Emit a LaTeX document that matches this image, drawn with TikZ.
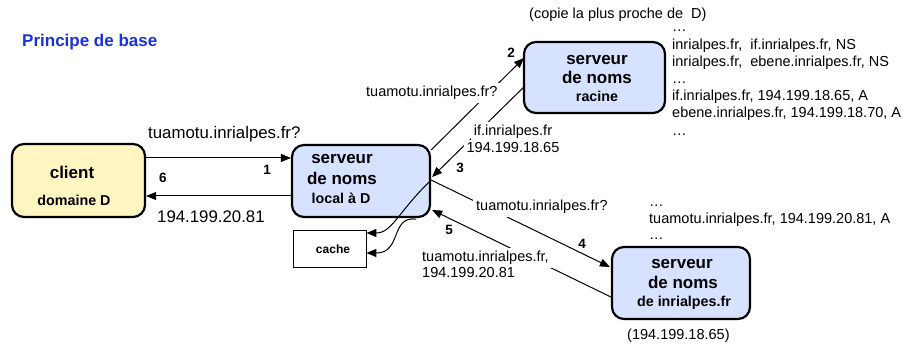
\documentclass[tikz,border=0pt]{standalone}
\usepackage{fontspec}
\setmainfont{Liberation Sans}
\usetikzlibrary{arrows.meta,calc}
\definecolor{boxblue}{RGB}{214,226,255}
\definecolor{boxyellow}{RGB}{255,245,192}
\definecolor{titleblue}{RGB}{26,51,217}
\begin{document}
\begin{tikzpicture}[x=1pt,y=-1pt,
  srv/.style={draw=black,line width=2.2pt,rounded corners=12pt,fill=boxblue,inner sep=0pt,minimum width=138pt,minimum height=72pt},
  arr/.style={line width=1pt,-{Triangle[length=10pt,width=8pt]}},
  lbl/.style={fill=white,inner sep=3pt,font=\fontsize{14.5}{17}\selectfont},
  txt/.style={inner sep=0pt,font=\fontsize{14.5}{17}\selectfont},
  num/.style={inner sep=0pt,font=\fontsize{13.5}{16}\selectfont\bfseries},
  bigt/.style={inner sep=0pt,font=\fontsize{17}{20}\selectfont\bfseries},
  smallt/.style={inner sep=0pt,font=\fontsize{14.3}{17}\selectfont\bfseries},
]
\path[use as bounding box,fill=white] (0,0) rectangle (904,344);

% boxes
\node[srv,fill=boxyellow,minimum width=133pt,minimum height=73pt] (client) at (78.5,180.5) {};
\node[srv] (local) at (361,181) {};
\node[srv,minimum width=141pt,minimum height=71pt] (root) at (594.5,77.5) {};
\node[srv] (inria) at (681,283) {};
\node[draw,line width=0.8pt,minimum width=73pt,minimum height=37pt,inner sep=0pt] (cache) at (329.5,248.5) {};

% box texts
\node[bigt,anchor=base] (ct1) at (72,179) {client};
\node[smallt,anchor=base] (ct2) at (74,206) {domaine D};
\node[bigt,anchor=base] (lt1) at (342,164) {serveur};
\node[bigt,anchor=base] (lt2) at (342,185) {de noms};
\node[smallt,anchor=base] (lt3) at (341,204) {local à D};
\node[bigt,anchor=base] (rt1) at (597,65) {serveur};
\node[bigt,anchor=base] (rt2) at (597,84) {de noms};
\node[smallt,anchor=base] (rt3) at (597,101.5) {racine};
\node[bigt,anchor=base] (it1) at (682,269) {serveur};
\node[bigt,anchor=base] (it2) at (683,289) {de noms};
\node[smallt,anchor=base] (it3) at (684,306) {de inrialpes.fr};
\node[inner sep=0pt,font=\fontsize{12}{14}\selectfont\bfseries,anchor=base] (cachet) at (333,254) {cache};

% connectors
\draw[arr] ($(client.east)+(0,-22.5)$) -- ($(local.west)+(0,-23)$);
\draw[arr] ($(local.west)+(0,15)$) -- ($(client.east)+(0,15.5)$);
\draw[arr] ($(local.east)+(0,-31)$) -- ($(root.west)+(1,-19.5)$);
\draw[arr] ($(root.west)+(1,9.5)$) -- ($(local.east)+(1,-4)$);
\draw[arr] ($(local.east)+(0,-1)$) -- ($(inria.west)+(-1,-16)$);
\draw[arr] ($(inria.west)+(0,14)$) -- ($(local.east)+(1,29)$);
\draw[arr] ($(local.east)+(0,-1)$) .. controls (398,212) and (392,233) .. ($(cache.east)+(0,-15.5)$);
\draw[arr] ($(local.south east)+(-15,1)$) .. controls (390,216) and (402,253) .. ($(cache.east)+(0,4.5)$);

% labels
\node[txt,anchor=base west,font=\fontsize{16.8}{20}\selectfont] (q1) at (148,138.5) {tuamotu.inrialpes.fr?};
\node[txt,anchor=base west,font=\fontsize{16.8}{20}\selectfont] (r6) at (157,223) {194.199.20.81};
\node[num,anchor=base] (n1) at (267,175) {1};
\node[num,anchor=base] (n6) at (163,183) {6};
\node[lbl,anchor=base west] (q2) at (363,97) {tuamotu.inrialpes.fr?};
\node[num,anchor=base] (n2) at (511,58) {2};
\node[lbl,anchor=base] (r3a) at (513,136) {if.inrialpes.fr};
\node[lbl,anchor=base] (r3b) at (513,153) {194.199.18.65};
\node[num,anchor=base] (n3) at (460,173) {3};
\node[lbl,anchor=base west] (q4) at (473,211) {tuamotu.inrialpes.fr?};
\node[num,anchor=base] (n4) at (582,249) {4};
\node[lbl,anchor=base west] (r5a) at (419,262) {tuamotu.inrialpes.fr,};
\node[lbl,anchor=base west] (r5b) at (419,278) {194.199.20.81};
\node[num,anchor=base] (n5) at (449,235) {5};

% title and notes
\node[anchor=base west,inner sep=0pt,text=titleblue,font=\fontsize{17}{20}\selectfont\bfseries] (title) at (22,47) {Principe de base};
\node[txt,anchor=base west] (copie) at (529,19) {(copie la plus proche de\ \ D)};
\node[txt,anchor=base west] (rec0) at (672,32) {…};
\node[txt,anchor=base west] (rec1) at (672,49.2) {inrialpes.fr,\ \ if.inrialpes.fr, NS};
\node[txt,anchor=base west] (rec2) at (672,66.4) {inrialpes.fr,\ \ ebene.inrialpes.fr, NS};
\node[txt,anchor=base west] (rec3) at (672,83.6) {…};
\node[txt,anchor=base west] (rec4) at (672,100.8) {if.inrialpes.fr, 194.199.18.65, A};
\node[txt,anchor=base west] (rec5) at (672,118) {ebene.inrialpes.fr, 194.199.18.70, A};
\node[txt,anchor=base west] (rec6) at (672,135.2) {…};
\node[txt,anchor=base west] (irec0) at (649,207) {…};
\node[txt,anchor=base west] (irec1) at (649,224) {tuamotu.inrialpes.fr, 194.199.20.81, A};
\node[txt,anchor=base west] (irec2) at (649,240) {…};
\node[txt,anchor=base west] (ip) at (627,339) {(194.199.18.65)};
\end{tikzpicture}
\end{document}
